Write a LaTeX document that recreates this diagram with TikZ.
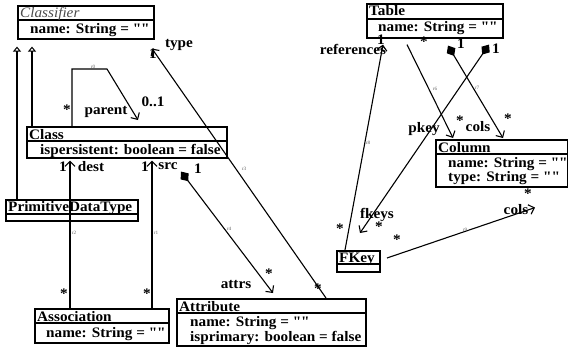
\documentclass[tikz,border=0pt]{standalone}
\usepackage{fontspec}
\setmainfont{Liberation Serif}[FakeStretch=1.05, Ligatures=TeXOff]
\usetikzlibrary{arrows.meta,calc}

\newcommand{\umlfont}{\fontsize{14.5}{14.5}\selectfont\bfseries}

\tikzset{
  umlbox/.style={draw, line width=1.6pt, inner sep=0pt, anchor=north west},
  divider/.style={line width=1.6pt},
  ctitle/.style={anchor=base west, inner sep=0pt, font=\umlfont},
  cattr/.style={anchor=base west, inner sep=0pt, font=\umlfont},
  lbl/.style={inner sep=0pt, font=\umlfont},
  tinylbl/.style={inner sep=0pt, text=black!60, font=\fontsize{5}{5}\selectfont},
  assoc/.style={line width=1.1pt},
  nav/.style={assoc, -{Straight Barb[length=5pt,width=10pt,line width=1.1pt]}},
  comp/.style={assoc, {Diamond[length=12pt,width=10pt]}-{Straight Barb[length=5pt,width=10pt,line width=1.1pt]}},
  gen/.style={assoc, -{Triangle[open,length=5pt,width=8pt,line width=1pt]}}
}

\begin{document}
\begin{tikzpicture}[x=1pt,y=1pt]
\useasboundingbox (0,0) rectangle (568,-349);

% ---------- classes ----------
\node[umlbox, minimum width=136pt, minimum height=33pt] (classifier) at (17,-5) {};
\draw[divider] ([yshift=-15]classifier.north west) -- ([yshift=-15]classifier.north east);
\node[ctitle, font=\fontsize{14.5}{14.5}\selectfont\itshape, text=black!70] (classifierT) at ([xshift=3,yshift=-12]classifier.north west) {Classifier};
\node[cattr] (classifierA) at ([xshift=13,yshift=-28]classifier.north west) {name: String = ""};

\node[umlbox, minimum width=200pt, minimum height=31pt] (cls) at (26,-126) {};
\draw[divider] ([yshift=-15]cls.north west) -- ([yshift=-15]cls.north east);
\node[ctitle] (clsT) at ([xshift=3,yshift=-13]cls.north west) {Class};
\node[cattr] (clsA) at ([xshift=14,yshift=-28]cls.north west) {ispersistent: boolean = false};

\node[umlbox, minimum width=132pt, minimum height=21pt] (pdt) at (5,-199) {};
\draw[divider] ([yshift=-15]pdt.north west) -- ([yshift=-15]pdt.north east);
\node[ctitle] (pdtT) at ([xshift=3,yshift=-12]pdt.north west) {PrimitiveDataType};

\node[umlbox, minimum width=134pt, minimum height=34pt] (assoc) at (34,-308) {};
\draw[divider] ([yshift=-15]assoc.north west) -- ([yshift=-15]assoc.north east);
\node[ctitle] (assocT) at ([xshift=3,yshift=-13]assoc.north west) {Association};
\node[cattr] (assocA) at ([xshift=12,yshift=-29]assoc.north west) {name: String = ""};

\node[umlbox, minimum width=189pt, minimum height=47pt] (attribute) at (176,-298) {};
\draw[divider] ([yshift=-15]attribute.north west) -- ([yshift=-15]attribute.north east);
\node[ctitle] (attributeT) at ([xshift=3,yshift=-13]attribute.north west) {Attribute};
\node[cattr] (attributeA) at ([xshift=14,yshift=-28]attribute.north west) {name: String = ""};
\node[cattr] (attributeB) at ([xshift=14,yshift=-43]attribute.north west) {isprimary: boolean = false};

\node[umlbox, minimum width=136pt, minimum height=34pt] (table) at (366,-3) {};
\draw[divider] ([yshift=-16]table.north west) -- ([yshift=-16]table.north east);
\node[ctitle] (tableT) at ([xshift=3,yshift=-12]table.north west) {Table};
\node[cattr] (tableA) at ([xshift=12,yshift=-28]table.north west) {name: String = ""};

\node[umlbox, minimum width=132pt, minimum height=47pt] (column) at (435,-139) {};
\draw[divider] ([yshift=-15]column.north west) -- ([yshift=-15]column.north east);
\node[ctitle] (columnT) at ([xshift=3,yshift=-13]column.north west) {Column};
\node[cattr] (columnA) at ([xshift=13,yshift=-28]column.north west) {name: String = ""};
\node[cattr] (columnB) at ([xshift=13,yshift=-42]column.north west) {type: String = ""};

\node[umlbox, minimum width=43pt, minimum height=21pt] (fkey) at (336,-250) {};
\draw[divider] ([yshift=-14]fkey.north west) -- ([yshift=-14]fkey.north east);
\node[ctitle] (fkeyT) at ([xshift=3,yshift=-12]fkey.north west) {FKey};

% ---------- generalizations ----------
\draw[gen] ([xshift=12]pdt.north west) -- ([yshift=-7]classifier.south west);
\draw[gen] ([xshift=6]cls.north west) -- ([xshift=15,yshift=-7]classifier.south west);

% ---------- associations, left part ----------
% r0: parent
\draw[nav] ([xshift=46]cls.north west) -- ++(0,57) -- ++(35,0) -- ([xshift=112,yshift=6]cls.north west);
\node[tinylbl] (r0) at (93,-67) {r0};
\node[lbl] (r0a) at (67,-110) {*};
\node[lbl] (r0b) at (106,-112) {parent};
\node[lbl] (r0c) at (153,-102) {0..1};

% r2: dest
\draw[nav] ([xshift=36]assoc.north west) -- ([xshift=44,yshift=-2]cls.south west);
\node[tinylbl] (r2) at (74,-233) {r2};
\node[lbl] (r2a) at (63,-167) {1};
\node[lbl] (r2b) at (91,-167) {dest};
\node[lbl] (r2c) at (64,-294) {*};

% r1: src
\draw[nav] ([xshift=118]assoc.north west) -- ([xshift=126,yshift=-2]cls.south west);
\node[tinylbl] (r1) at (156,-233) {r1};
\node[lbl] (r1a) at (145,-167) {1};
\node[lbl] (r1b) at (168,-166) {src};
\node[lbl] (r1c) at (147,-294) {*};

% r4: attrs
\draw[comp] ([xshift=155,yshift=-13]cls.south west) -- ([xshift=97,yshift=5]attribute.north west);
\node[tinylbl] (r4) at (229,-229) {r4};
\node[lbl] (r4a) at (198,-169) {1};
\node[lbl] (r4b) at (236,-284) {attrs};
\node[lbl] (r4c) at (269,-274) {*};

% r3: type
\draw[nav] ([xshift=150]attribute.north west) -- ([xshift=135,yshift=-9]classifier.south west);
\node[tinylbl] (r3) at (244,-169) {r3};
\node[lbl] (r3a) at (153,-54) {1};
\node[lbl] (r3b) at (179,-45) {type};
\node[lbl] (r3c) at (318,-289) {*};

% ---------- associations, right part ----------
% r8: references
\draw[nav] ([xshift=9]fkey.north west) -- ([xshift=17,yshift=-6]table.south west);
\node[tinylbl] (r8) at (368,-143) {r8};
\node[lbl] (r8a) at (353,-49) {references};
\node[lbl] (r8b) at (381,-40) {1};
\node[lbl] (r8c) at (340,-229) {*};

% r6: pkey
\draw[nav] ([xshift=41,yshift=-6]table.south west) -- ([xshift=18,yshift=1]column.north west);
\node[tinylbl] (r6) at (435,-89) {r6};
\node[lbl] (r6a) at (424,-42) {*};
\node[lbl] (r6b) at (424,-129) {pkey};
\node[lbl] (r6c) at (460,-121) {*};

% r7: cols
\draw[comp] ([xshift=82,yshift=-7]table.south west) -- ([xshift=68,yshift=1]column.north west);
\node[tinylbl] (r7) at (477,-88) {r7};
\node[lbl] (r7a) at (461,-44) {1};
\node[lbl] (r7b) at (478,-127) {cols};
\node[lbl] (r7c) at (508,-119) {*};

% fkeys
\draw[comp] ([xshift=123,yshift=-6]table.south west) -- ([xshift=24,yshift=17]fkey.north west);
\node[lbl] (r5a) at (496,-49) {1};
\node[lbl] (r5b) at (377,-215) {fkeys};
\node[lbl] (r5c) at (379,-227) {*};

% r9: cols of a foreign key
\draw[nav] ([xshift=51,yshift=-8]fkey.north west) -- ([xshift=100,yshift=-20]column.south west);
\node[tinylbl] (r9) at (465,-230) {r9};
\node[lbl] (r9a) at (397,-240) {*};
\node[lbl] (r9b) at (516,-210) {cols};
\node[lbl] (r9c) at (528,-194) {*};
\end{tikzpicture}
\end{document}
